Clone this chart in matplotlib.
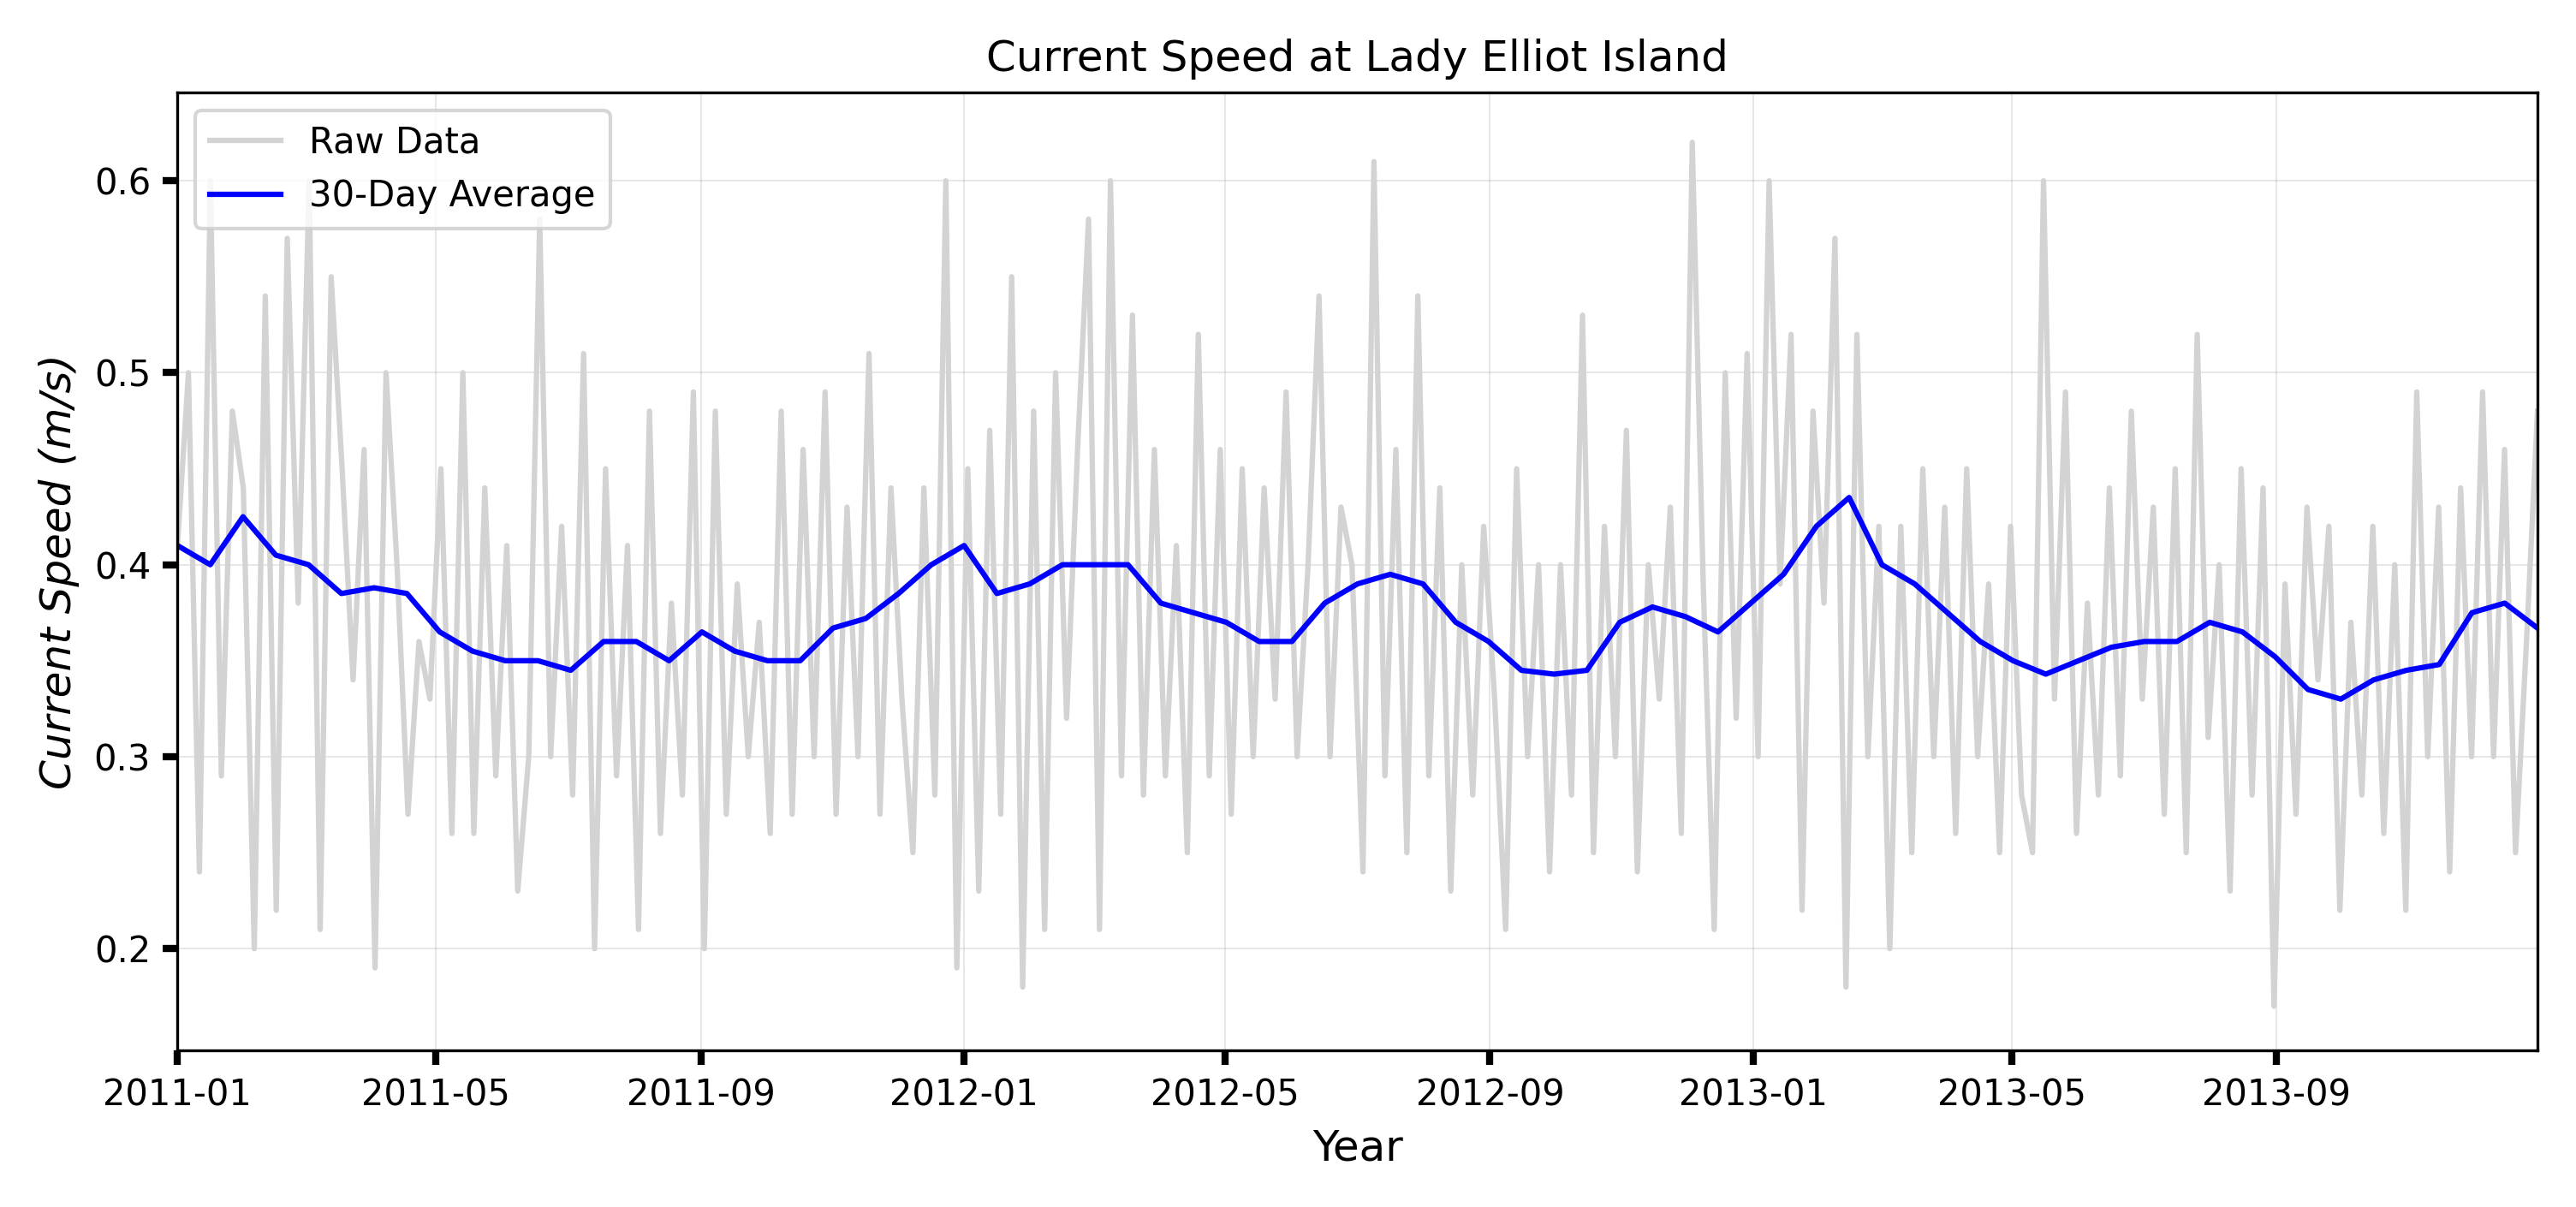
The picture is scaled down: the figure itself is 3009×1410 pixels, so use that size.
import matplotlib
matplotlib.use('Agg')
import matplotlib.pyplot as plt
import matplotlib.dates as mdates
import numpy as np
import pandas as pd

# raw current speed, every 5 days (m/s)
raw_speed = [
    0.41, 0.50, 0.24, 0.60, 0.29, 0.48,
    0.44, 0.20, 0.54, 0.22, 0.57, 0.38,
    0.60, 0.21, 0.55, 0.45, 0.34, 0.46,
    0.19, 0.50, 0.40, 0.27, 0.36, 0.33,
    0.45, 0.26, 0.50, 0.26, 0.44, 0.29,
    0.41, 0.23, 0.30, 0.58, 0.30, 0.42,
    0.28, 0.51, 0.20, 0.45, 0.29, 0.41,
    0.21, 0.48, 0.26, 0.38, 0.28, 0.49,
    0.20, 0.48, 0.27, 0.39, 0.30, 0.37,
    0.26, 0.48, 0.27, 0.46, 0.30, 0.49,
    0.27, 0.43, 0.30, 0.51, 0.27, 0.44,
    0.33, 0.25, 0.44, 0.28, 0.60, 0.19,
    0.45, 0.23, 0.47, 0.27, 0.55, 0.18,
    0.48, 0.21, 0.50, 0.32, 0.46, 0.58,
    0.21, 0.60, 0.29, 0.53, 0.28, 0.46,
    0.29, 0.41, 0.25, 0.52, 0.29, 0.46,
    0.27, 0.45, 0.30, 0.44, 0.33, 0.49,
    0.30, 0.40, 0.54, 0.30, 0.43, 0.40,
    0.24, 0.61, 0.29, 0.46, 0.25, 0.54,
    0.29, 0.44, 0.23, 0.40, 0.28, 0.42,
    0.33, 0.21, 0.45, 0.30, 0.40, 0.24,
    0.40, 0.28, 0.53, 0.25, 0.42, 0.30,
    0.47, 0.24, 0.40, 0.33, 0.43, 0.26,
    0.62, 0.39, 0.21, 0.50, 0.32, 0.51,
    0.30, 0.60, 0.39, 0.52, 0.22, 0.48,
    0.38, 0.57, 0.18, 0.52, 0.30, 0.42,
    0.20, 0.42, 0.25, 0.45, 0.30, 0.43,
    0.26, 0.45, 0.30, 0.39, 0.25, 0.42,
    0.28, 0.25, 0.60, 0.33, 0.49, 0.26,
    0.38, 0.28, 0.44, 0.29, 0.48, 0.33,
    0.43, 0.27, 0.45, 0.25, 0.52, 0.31,
    0.40, 0.23, 0.45, 0.28, 0.44, 0.17,
    0.39, 0.27, 0.43, 0.34, 0.42, 0.22,
    0.37, 0.28, 0.42, 0.26, 0.40, 0.22,
    0.49, 0.30, 0.43, 0.24, 0.44, 0.30,
    0.49, 0.30, 0.46, 0.25, 0.36, 0.48,
]

avg_speed = [
    0.41, 0.40, 0.425, 0.405, 0.40, 0.385, 0.388, 0.385, 0.365, 0.355,
    0.35, 0.35, 0.345, 0.36, 0.36, 0.35, 0.365, 0.355, 0.35, 0.35,
    0.367, 0.372, 0.385, 0.40, 0.41, 0.385, 0.39, 0.40, 0.40, 0.40,
    0.38, 0.375, 0.37, 0.36, 0.36, 0.38, 0.39, 0.395, 0.39, 0.37,
    0.36, 0.345, 0.343, 0.345, 0.37, 0.378, 0.373, 0.365, 0.38, 0.395,
    0.42, 0.435, 0.40, 0.39, 0.375, 0.36, 0.35, 0.343, 0.35, 0.357,
    0.36, 0.36, 0.37, 0.365, 0.352, 0.335, 0.33, 0.34, 0.345, 0.348,
    0.375, 0.38, 0.367,
]

start, end = "2011-01-01", "2013-12-31"
raw_dates = pd.date_range(start, end, periods=len(raw_speed))
avg_dates = pd.date_range(start, end, periods=len(avg_speed))

fig, ax = plt.subplots(figsize=(10.03, 4.70), dpi=300)
ax.plot(raw_dates, raw_speed, color="lightgray", lw=1.5, label="Raw Data")
ax.plot(avg_dates, avg_speed, color="blue", lw=1.5, label="30-Day Average")

ax.set_title("Current Speed at Lady Elliot Island", fontsize=12)
ax.set_xlabel("Year", fontsize=12)
ax.set_ylabel("Current Speed (m/s)", fontsize=12, style="italic")
ax.set_xlim(pd.Timestamp(start), pd.Timestamp(end))
ax.set_ylim(0.147, 0.646)
ax.xaxis.set_major_locator(mdates.MonthLocator(bymonth=[1, 5, 9]))
ax.xaxis.set_major_formatter(mdates.DateFormatter("%Y-%m"))
ax.tick_params(width=2, length=4, labelsize=10)
ax.grid(True, alpha=0.3, lw=0.5)
ax.legend(loc="upper left", fontsize=10)
fig.tight_layout()
fig.savefig("out.png")
